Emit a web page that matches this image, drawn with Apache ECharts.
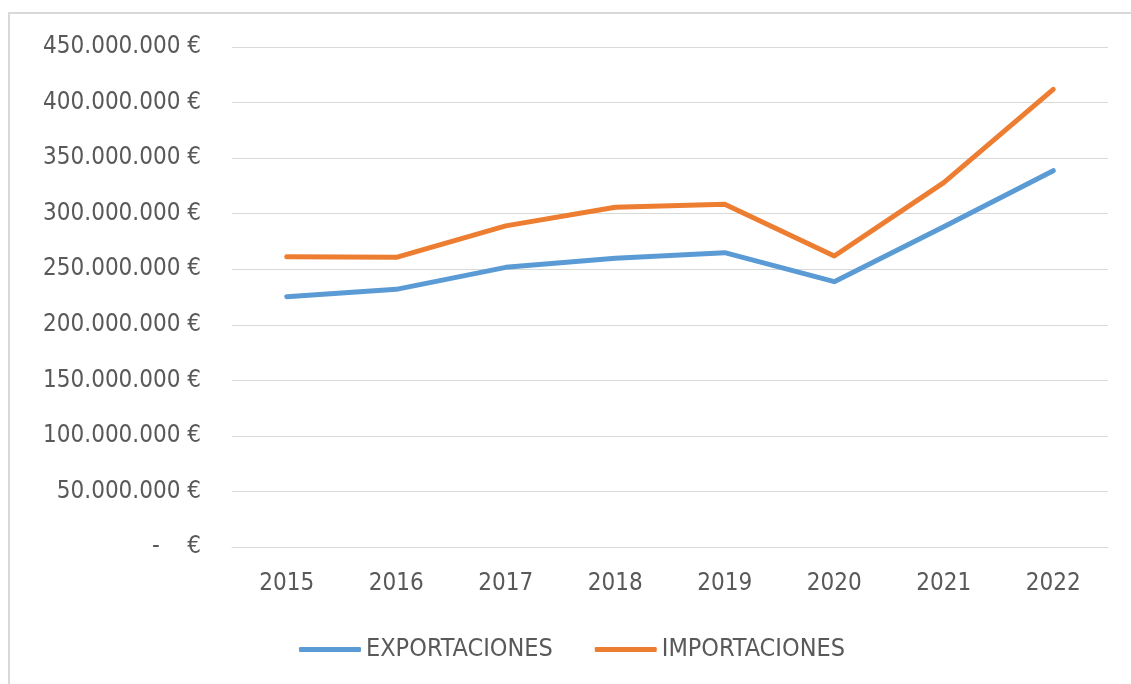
<!DOCTYPE html>
<html>
<head>
<meta charset="utf-8">
<script src="https://cdn.jsdelivr.net/npm/echarts@6/dist/echarts.min.js"></script>
<style>
    html, body { margin: 0; padding: 0; background: #fff; }
    #chart { width: 1131px; height: 684px; }
</style>
</head>
<body>
<div id="chart"></div>
<script>
// años
const years = ['2015', '2016', '2017', '2018', '2019', '2020', '2021', '2022'];
// valores en euros
const exportaciones = [225300000, 231900000, 251700000, 259800000, 264900000, 238800000, 288300000, 338700000];
const importaciones = [261300000, 260700000, 289000000, 305700000, 308400000, 261900000, 327900000, 411900000];

const font = '"DejaVu Sans Condensed", "DejaVu Sans", sans-serif';

function euro(v) {
    if (v === 0) return '-    €';
    // separador de miles con punto
    return String(v).replace(/\B(?=(\d{3})+(?!\d))/g, '.') + ' €';
}

const chart = echarts.init(document.getElementById('chart'));
chart.setOption({
    animation: false,
    graphic: [{
        type: 'rect',
        shape: { x: 9, y: 13, width: 1140, height: 700 },
        style: { fill: 'none', stroke: '#d9d9d9', lineWidth: 2 },
        silent: true
    }],
    grid: { left: 232, right: 23, top: 47, bottom: 137 },
    legend: {
        left: 294,
        top: 632,
        icon: 'roundRect',
        itemWidth: 62,
        itemHeight: 5,
        itemGap: 42,
        textStyle: { fontFamily: font, fontSize: 25, color: '#595959' },
        data: ['EXPORTACIONES', 'IMPORTACIONES']
    },
    xAxis: {
        type: 'category',
        data: years,
        boundaryGap: true,
        axisLine: { show: true, lineStyle: { color: '#d9d9d9', width: 1 } },
        axisTick: { show: false },
        axisLabel: { fontFamily: font, fontSize: 24, color: '#595959', margin: 25 }
    },
    yAxis: {
        type: 'value',
        min: 0,
        max: 450000000,
        interval: 50000000,
        axisLine: { show: false },
        axisTick: { show: false },
        splitLine: { lineStyle: { color: '#d9d9d9', width: 1 } },
        axisLabel: { fontFamily: font, fontSize: 24, color: '#595959', margin: 31, formatter: euro }
    },
    series: [
        {
            name: 'EXPORTACIONES',
            type: 'line',
            data: exportaciones,
            showSymbol: false,
            lineStyle: { color: '#5b9bd5', width: 5, cap: 'round', join: 'round' },
            itemStyle: { color: '#5b9bd5' }
        },
        {
            name: 'IMPORTACIONES',
            type: 'line',
            data: importaciones,
            showSymbol: false,
            lineStyle: { color: '#ed7d31', width: 5, cap: 'round', join: 'round' },
            itemStyle: { color: '#ed7d31' }
        }
    ]
});
</script>
</body>
</html>
